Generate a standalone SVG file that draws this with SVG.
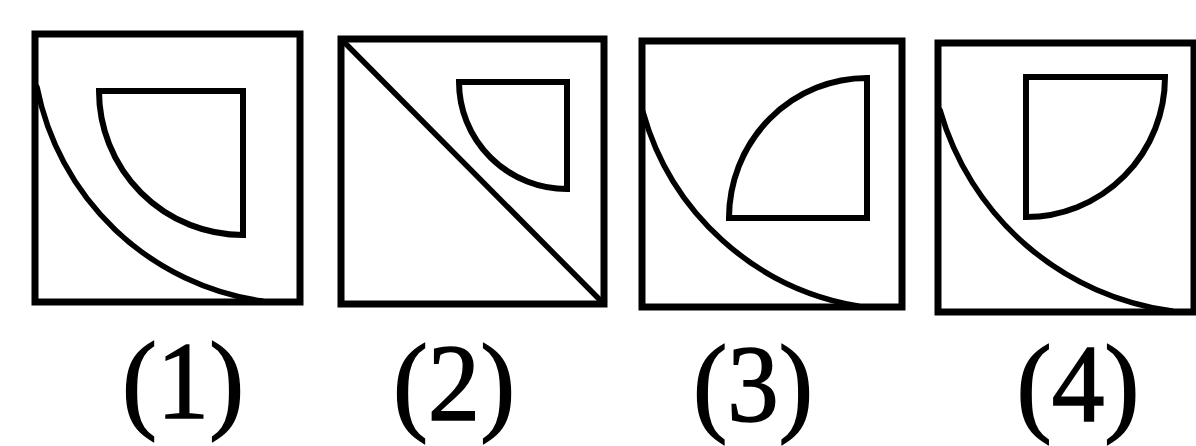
<svg xmlns="http://www.w3.org/2000/svg" width="1196" height="446" viewBox="0 0 1196 446">
<style>
.frame{fill:none;stroke:#000;stroke-width:7;stroke-linejoin:miter}
.line{fill:none;stroke:#000;stroke-width:5.5;stroke-linecap:round}
.shape{fill:none;stroke:#000;stroke-width:6;stroke-linejoin:miter}
.lbl{font-family:"Liberation Serif","Times New Roman",serif;font-size:110px;fill:#000;stroke:#000;stroke-width:1.5;text-anchor:middle}
</style>
<rect width="1196" height="446" fill="#fff"/>
<g id="panel1">
<rect class="frame" x="35" y="34" width="265" height="268"/>
<path class="line" d="M37 87 A268 268 0 0 0 262 301"/>
<path class="shape" d="M99 91 L243 91 L243 235 A144 144 0 0 1 99 91 Z"/>
</g>
<g id="panel2">
<rect class="frame" x="341" y="39" width="263" height="265"/>
<path class="line" d="M342 40 L603 303"/>
<path class="shape" d="M459 82 L567 82 L567 189 A108 107 0 0 1 459 82 Z"/>
</g>
<g id="panel3">
<rect class="frame" x="642" y="41" width="260" height="266"/>
<path class="line" d="M643 112 A270 270 0 0 0 858 306"/>
<path class="shape" d="M729 218 L867 218 L867 78 A138 140 0 0 0 729 218 Z"/>
</g>
<g id="panel4">
<rect class="frame" x="938" y="43" width="256" height="269"/>
<path class="line" d="M940 110 A280 280 0 0 0 1172 311"/>
<path class="shape" d="M1026 77 L1165 77 A139 140 0 0 1 1026 217 Z"/>
</g>
<g id="labels">
<text class="lbl" x="183" y="418" textLength="122" lengthAdjust="spacingAndGlyphs">(1)</text>
<text class="lbl" x="454" y="420" textLength="122" lengthAdjust="spacingAndGlyphs">(2)</text>
<text class="lbl" x="753" y="421" textLength="120" lengthAdjust="spacingAndGlyphs">(3)</text>
<text class="lbl" x="1078" y="421" textLength="123" lengthAdjust="spacingAndGlyphs">(4)</text>
</g>
</svg>
